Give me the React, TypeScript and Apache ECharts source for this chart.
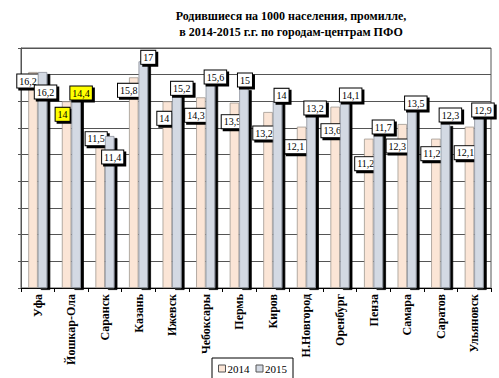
import React, { useEffect, useRef } from "react";
import * as echarts from "echarts";

const categories = [
  "Уфа", "Йошкар-Ола", "Саранск", "Казань", "Ижевск", "Чебоксары", "Пермь",
  "Киров", "Н.Новгород", "Оренбург", "Пенза", "Самара", "Саратов", "Ульяновск",
];
const values2014 = [16.2, 14, 11.5, 15.8, 14, 14.3, 13.9, 13.2, 12.1, 13.6, 11.2, 12.3, 11.2, 12.1];
const values2015 = [16.2, 14.4, 11.4, 17, 15.2, 15.6, 15, 14, 13.2, 14.1, 11.7, 13.5, 12.3, 12.9];
const highlighted = ["Йошкар-Ола"];
const yTicks = { min: 0, max: 18, interval: 2 };

// label offsets (px) from the top centre of each bar
const labelOffsets2014 = [
  [-5, 9], [-4, 13], [-4, 4], [-5, 13], [-3, 17], [-5, 18], [-2, 19],
  [-4, 21], [-6, 20], [-3, 24], [-3, 25], [-5, 22], [-4, 15], [-4, 26],
];
const labelOffsets2015 = [
  [3, 20], [5, -3], [3, 21], [5, -4], [5, 3], [5, -3], [1, -8],
  [4, -6], [4, -4], [6, -5], [5, -5], [4, -5], [5, -9], [4, -6],
];

const fmt = (v: number) => String(v).replace(".", ",");

export default function App() {
  const ref = useRef<HTMLDivElement>(null);
  useEffect(() => {
    if (!ref.current) return;
    const chart = echarts.init(ref.current, undefined, { renderer: "svg" });
    const serif = '"Liberation Serif", "Times New Roman", serif';
    const labelBase = {
      show: true,
      position: "top",
      distance: 0,
      align: "center",
      verticalAlign: "middle",
      fontFamily: serif,
      fontSize: 10,
      color: "#000",
      backgroundColor: "#fff",
      borderColor: "#000",
      borderWidth: 1,
      padding: [2, 2, 1, 2],
      lineHeight: 10,
      shadowColor: "#000",
      shadowOffsetX: 2,
      shadowOffsetY: 2,
      shadowBlur: 0,
      formatter: (p: any) => fmt(p.value),
    };
    const mkData = (vals: number[], offs: number[][]) =>
      vals.map((v, i) => ({
        value: v,
        label: {
          offset: offs[i],
          backgroundColor: highlighted.includes(categories[i]) ? "#ffff00" : "#fff",
        },
      }));
    chart.setOption({
      animation: false,
      graphic: [
        {
          type: "text",
          x: 291,
          y: 8,
          style: {
            text: "Родившиеся на 1000 населения, промилле,\nв 2014-2015 г.г. по городам-центрам ПФО",
            textAlign: "center",
            font: 'bold 12px "Liberation Serif", serif',
            lineHeight: 16,
            fill: "#000",
          },
        },
      ],
      legend: {
        left: 212,
        top: 358,
        itemWidth: 7,
        itemHeight: 7,
        itemGap: 6,
        icon: "rect",
        borderColor: "#000",
        borderWidth: 1,
        borderRadius: 0,
        padding: [5, 6, 8, 6],
        textStyle: { fontFamily: serif, fontSize: 11, color: "#000", padding: [0, 0, 0, -3] },
        itemStyle: { borderColor: "#555", borderWidth: 1 },
        data: ["2014", "2015"],
      },
      grid: {
        left: 21,
        right: 8,
        top: 48,
        bottom: 90,
        show: true,
        borderColor: "#555",
        borderWidth: 1,
        backgroundColor: "#fff",
      },
      xAxis: {
        type: "category",
        data: categories,
        axisLine: { lineStyle: { color: "#000", width: 1 } },
        axisTick: { show: true, length: 4, lineStyle: { color: "#000" } },
        axisLabel: {
          rotate: 90,
          margin: 6,
          fontFamily: serif,
          fontWeight: "bold",
          fontSize: 12,
          color: "#000",
        },
      },
      yAxis: {
        type: "value",
        min: yTicks.min,
        max: yTicks.max,
        interval: yTicks.interval,
        axisLabel: { show: false },
        axisLine: { show: true, lineStyle: { color: "#555" } },
        axisTick: { show: true, length: 3, lineStyle: { color: "#555" } },
        splitLine: { show: true, lineStyle: { color: "#555", width: 1 } },
      },
      series: [
        {
          name: "2014",
          type: "bar",
          barWidth: 9.5,
          barGap: "0%",
          itemStyle: { color: "#fbe5d6", borderColor: "#a09890", borderWidth: 0.8 },
          label: labelBase,
          data: mkData(values2014, labelOffsets2014),
          z: 2,
        },
        {
          name: "2015",
          type: "bar",
          barWidth: 9.5,
          barGap: "0%",
          itemStyle: {
            color: "#d3d9e3",
            borderColor: "#8a8f99",
            borderWidth: 0.8,
            shadowColor: "#000",
            shadowOffsetX: 3,
            shadowOffsetY: 2,
            shadowBlur: 0,
          },
          label: labelBase,
          data: mkData(values2015, labelOffsets2015),
          z: 3,
        },
      ],
    });
    return () => chart.dispose();
  }, []);
  return (
    <div
      ref={ref}
      style={{ position: "fixed", left: 0, top: 0, width: 499, height: 378, background: "#fff" }}
    />
  );
}
